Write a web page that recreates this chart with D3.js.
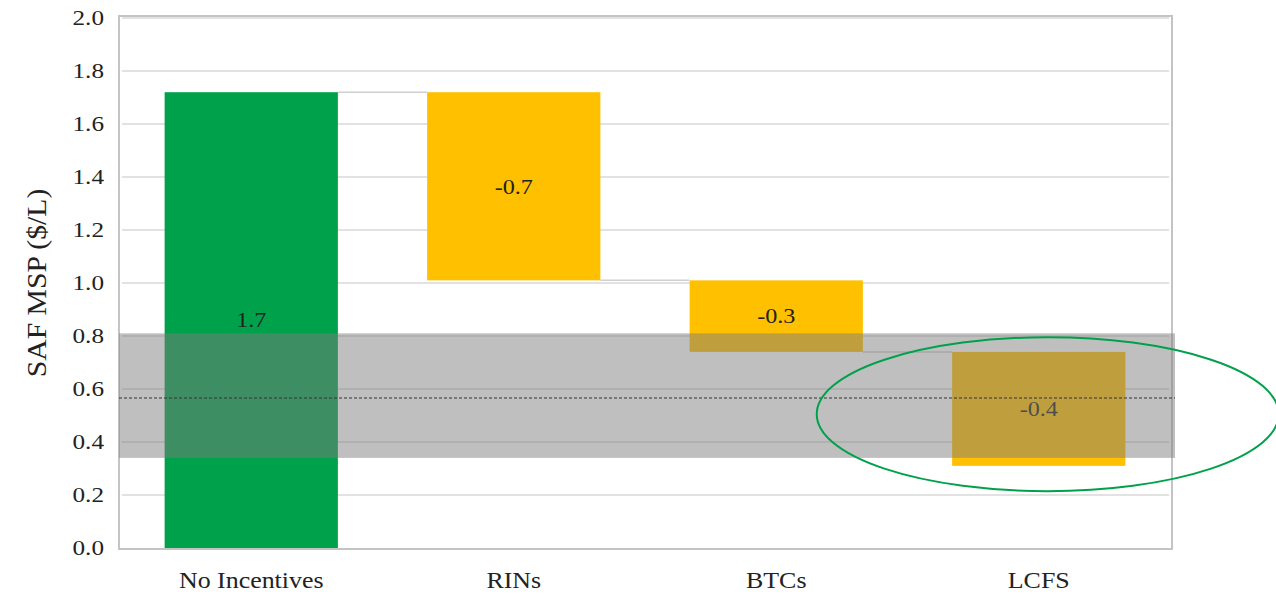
<!DOCTYPE html>
<html lang="en">
<head>
    <meta charset="UTF-8">
    <title>SAF MSP Waterfall</title>
    <script src="https://d3js.org/d3.v7.min.js"></script>
    <style>
        body { margin: 0; background: #fff; font-family: "Liberation Serif", "DejaVu Serif", serif; }
        svg text { font-family: "Liberation Serif", "DejaVu Serif", serif; fill: #222; }
    </style>
</head>
<body>
    <div id="chart"></div>
    <script>
        // chart data
        const categories = ["No Incentives", "RINs", "BTCs", "LCFS"];
        const steps = [1.72, -0.71, -0.27, -0.43];
        const yTicks = [0.0, 0.2, 0.4, 0.6, 0.8, 1.0, 1.2, 1.4, 1.6, 1.8, 2.0];
        // shaded range and its midline
        const bandRange = [0.34, 0.81];
        const bandMid = 0.566;

        const width = 1276, height = 596;
        const plot = {left: 119, right: 1172, top: 16, bottom: 549};

        const svg = d3.select("#chart").append("svg")
            .attr("width", width)
            .attr("height", height);

        // the source text is a little wider than Liberation Serif, stretch it about its anchor
        function widen(sel, k) {
            sel.attr("transform", function() {
                const ax = +this.getAttribute("x") || 0;
                const ay = +this.getAttribute("y") || 0;
                return `translate(${ax},${ay}) scale(${k},1) translate(${-ax},${-ay})`;
            });
        }

        const x = d3.scaleBand()
            .domain(categories)
            .range([120, 1170])
            .paddingInner(0.34)
            .paddingOuter(0.17);

        const y = d3.scaleLinear()
            .domain([0, 2])
            .range([548, 18]);

        // build waterfall segments
        let running = 0;
        const bars = steps.map((v, i) => {
            const start = i === 0 ? 0 : running;
            const end = i === 0 ? v : running + v;
            running = end;
            return {cat: categories[i], value: v, lo: Math.min(start, end), hi: Math.max(start, end), end: end, first: i === 0};
        });

        // gridlines
        svg.append("g")
            .selectAll("line")
            .data(yTicks.filter(d => d > 0))
            .enter().append("line")
            .attr("x1", plot.left + 3)
            .attr("x2", plot.right - 3)
            .attr("y1", d => y(d))
            .attr("y2", d => y(d))
            .attr("stroke", "#d9d9d9")
            .attr("stroke-width", 1.5);

        // frame
        svg.append("rect")
            .attr("x", plot.left)
            .attr("y", plot.top)
            .attr("width", plot.right - plot.left)
            .attr("height", plot.bottom - plot.top)
            .attr("fill", "none")
            .attr("stroke", "#c4c4c4")
            .attr("stroke-width", 2);

        // y axis
        const yAxis = svg.append("g")
            .attr("transform", `translate(${plot.left},0)`)
            .call(d3.axisLeft(y).tickValues(yTicks).tickFormat(d3.format(".1f")).tickSize(0).tickPadding(15));
        yAxis.select(".domain").remove();
        yAxis.selectAll("text")
            .style("font-size", "21px")
            .attr("fill", "#222")
            .call(widen, 1.2);

        // x axis labels
        const xAxis = svg.append("g")
            .attr("transform", `translate(0,${plot.bottom})`)
            .call(d3.axisBottom(x).tickSize(0).tickPadding(22));
        xAxis.select(".domain").remove();
        xAxis.selectAll("text")
            .style("font-size", "24px")
            .attr("fill", "#222")
            .call(widen, 1.08);

        // y title
        svg.append("g")
            .attr("transform", `translate(46,${(y(0) + y(2)) / 2}) rotate(-90)`)
            .append("text")
            .attr("x", 0)
            .attr("y", 0)
            .attr("text-anchor", "middle")
            .style("font-size", "27px")
            .text("SAF MSP ($/L)")
            .call(widen, 1.1);

        // connectors
        svg.append("g")
            .selectAll("line")
            .data(bars.slice(0, -1))
            .enter().append("line")
            .attr("x1", d => x(d.cat) + x.bandwidth())
            .attr("x2", (d, i) => x(categories[i + 1]))
            .attr("y1", d => y(d.end))
            .attr("y2", d => y(d.end))
            .attr("stroke", "#d0d0d0")
            .attr("stroke-width", 1.5);

        // bars
        svg.append("g")
            .selectAll("rect")
            .data(bars)
            .enter().append("rect")
            .attr("x", d => x(d.cat))
            .attr("width", x.bandwidth())
            .attr("y", d => y(d.hi))
            .attr("height", d => y(d.lo) - y(d.hi))
            .attr("fill", d => d.first ? "#00a14b" : "#ffc000");

        // value labels
        svg.append("g")
            .selectAll("text")
            .data(bars)
            .enter().append("text")
            .attr("x", d => x(d.cat) + x.bandwidth() / 2)
            .attr("y", d => y((d.lo + d.hi) / 2))
            .attr("dy", "0.35em")
            .attr("text-anchor", "middle")
            .style("font-size", "21px")
            .text(d => d.value.toFixed(1))
            .call(widen, 1.15);

        // shaded band over everything
        svg.append("rect")
            .attr("x", plot.left)
            .attr("width", plot.right + 3 - plot.left)
            .attr("y", y(bandRange[1]))
            .attr("height", y(bandRange[0]) - y(bandRange[1]))
            .attr("fill", "rgb(125,125,125)")
            .attr("fill-opacity", 0.49);

        svg.append("line")
            .attr("x1", plot.left)
            .attr("x2", plot.right + 3)
            .attr("y1", y(bandMid))
            .attr("y2", y(bandMid))
            .attr("stroke", "#333")
            .attr("stroke-width", 1)
            .attr("stroke-dasharray", "3,2");

        // highlight ellipse around LCFS
        svg.append("ellipse")
            .attr("cx", x("LCFS") + x.bandwidth() / 2 + 9)
            .attr("cy", y(0.505))
            .attr("rx", 231)
            .attr("ry", 77)
            .attr("fill", "none")
            .attr("stroke", "#00a14b")
            .attr("stroke-width", 2);
    </script>
</body>
</html>
